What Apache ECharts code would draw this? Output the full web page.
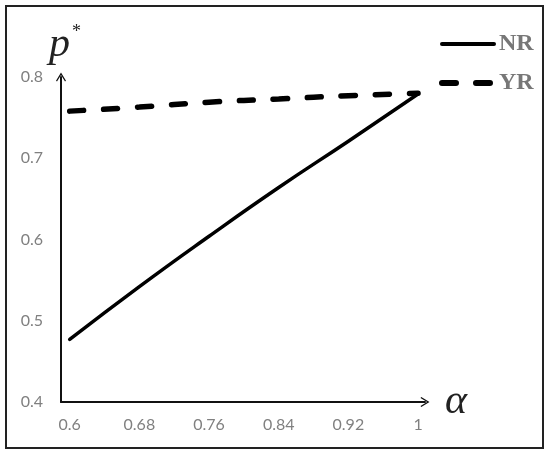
<!DOCTYPE html>
<html>
<head>
<meta charset="utf-8">
<script src="https://cdn.jsdelivr.net/npm/echarts@6/dist/echarts.min.js"></script>
<style>
html,body{margin:0;padding:0;background:#fff;}
#chart{width:550px;height:454px;}
</style>
</head>
<body>
<div id="chart"></div>
<script>
var alphaValues = [0.6, 0.68, 0.76, 0.84, 0.92, 1];
var nrValues = [0.477, 0.542, 0.604, 0.664, 0.721, 0.779];
var yrValues = [0.758, 0.763, 0.769, 0.773, 0.777, 0.780];
var xTickLabels = ['0.6', '0.68', '0.76', '0.84', '0.92', '1'];
var yTickLabels = ['0.4', '0.5', '0.6', '0.7', '0.8'];
var seriesNames = ['NR', 'YR'];

function pairs(xs, ys) { return xs.map(function (x, i) { return [x, ys[i]]; }); }

var chevron = 'path://M5,0 L10,8.2 L9,9 L5,2.4 L1,9 L0,8.2 Z';
var chart = echarts.init(document.getElementById('chart'));
chart.setOption({
  animation: false,
  backgroundColor: '#fff',
  grid: { left: 61, right: 125, top: 77, bottom: 52, containLabel: false },
  legend: {
    orient: 'vertical',
    left: 434, top: 27,
    itemWidth: 52, itemHeight: 24, itemGap: 15,
    data: [
      { name: seriesNames[0], itemStyle: { opacity: 0 }, lineStyle: { width: 4, type: 'solid', cap: 'round' } },
      { name: seriesNames[1], itemStyle: { opacity: 0 }, lineStyle: { width: 6, type: [14, 20], cap: 'round' } }
    ],
    textStyle: { fontFamily: 'Liberation Serif', fontWeight: 'bold', fontSize: 24, color: '#777', lineHeight: 24 }
  },
  xAxis: {
    type: 'value', min: 0.59, max: 1.008,
    name: 'α', nameLocation: 'end', nameGap: 20,
    nameTextStyle: { fontFamily: 'Liberation Serif', fontStyle: 'italic', fontSize: 42, color: '#222', verticalAlign: 'middle' },
    axisLine: { show: true, lineStyle: { color: '#111', width: 2 }, symbol: ['none', chevron], symbolSize: [11, 9] },
    axisTick: { show: false },
    splitLine: { show: false },
    axisLabel: {
      customValues: alphaValues,
      margin: 15,
      fontFamily: 'Lato', fontSize: 16, color: '#808080',
      formatter: function (v) { var i = alphaValues.indexOf(v); return i >= 0 ? xTickLabels[i] : ''; }
    }
  },
  yAxis: {
    type: 'value', min: 0.4, max: 0.8, interval: 0.1,
    name: '{p|p}{s|*}', nameLocation: 'end', nameGap: 10,
    nameTextStyle: {
      padding: [0, 0, 0, 8],
      rich: {
        p: { fontFamily: 'Liberation Serif', fontStyle: 'italic', fontSize: 42, color: '#222', lineHeight: 44 },
        s: { fontFamily: 'Liberation Serif', fontSize: 18, color: '#222', lineHeight: 4, verticalAlign: 'top', padding: [0, 0, 0, 2] }
      }
    },
    axisLine: { show: true, lineStyle: { color: '#111', width: 2 }, symbol: ['none', chevron], symbolSize: [11, 9] },
    axisTick: { show: false },
    splitLine: { show: false },
    axisLabel: {
      margin: 18,
      fontFamily: 'Lato', fontSize: 16, color: '#808080',
      formatter: function (v) { var i = Math.round((v - 0.4) * 10); return yTickLabels[i] || ''; }
    }
  },
  series: [
    {
      name: seriesNames[0], type: 'line', symbol: 'none', smooth: true,
      data: pairs(alphaValues, nrValues),
      lineStyle: { color: '#000', width: 3.5, cap: 'round' },
      itemStyle: { color: '#000' }
    },
    {
      name: seriesNames[1], type: 'line', symbol: 'none', smooth: true,
      data: pairs(alphaValues, yrValues),
      lineStyle: { color: '#000', width: 5.5, type: [14, 20], cap: 'round' },
      itemStyle: { color: '#000' }
    }
  ],
  graphic: [{
    type: 'rect', silent: true,
    shape: { x: 6, y: 6, width: 537, height: 442 },
    style: { fill: 'none', stroke: '#222', lineWidth: 2 }
  }]
});
</script>
</body>
</html>
